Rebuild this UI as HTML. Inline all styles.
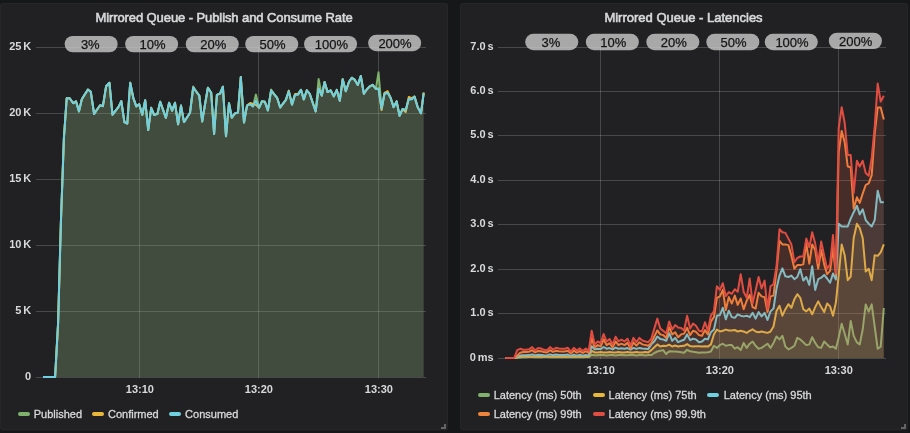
<!DOCTYPE html>
<html lang="en">
<head>
<meta charset="utf-8">
<title>Mirrored Queue</title>
<style>
html,body{margin:0;padding:0;}
body{width:910px;height:433px;overflow:hidden;background:#161719;font-family:"Liberation Sans",sans-serif;color:#d8d9da;position:relative;}
.panel{position:absolute;top:3px;height:427px;background:#212124;border-radius:2px;box-shadow:0 1px 0 #1b1c1e;border:1px solid #262629;box-sizing:border-box;}
#p1{left:0px;width:448px;}
#p2{left:460px;width:448px;}
.gfx{position:absolute;left:0;top:0;will-change:transform;}
.title{position:absolute;top:9.5px;height:16px;line-height:16px;font-size:13px;font-weight:normal;-webkit-text-stroke:0.6px #d8d9da;color:#d8d9da;text-align:center;white-space:nowrap;}
.sw{position:absolute;display:block;width:12px;height:4px;border-radius:2px;}
.lg{position:absolute;height:16px;line-height:16px;font-size:11px;-webkit-text-stroke:0.3px #d8d9da;color:#d8d9da;white-space:nowrap;}
.rh{position:absolute;width:3px;height:3px;border-right:2px solid #646466;border-bottom:2px solid #646466;}
</style>
</head>
<body>
<div class="panel" id="p1"></div>
<div class="panel" id="p2"></div>
<svg class="gfx" width="910" height="433" viewBox="0 0 910 433">
<g stroke="#ffffff" stroke-opacity="0.175" stroke-width="1" shape-rendering="crispEdges">
<line x1="36" x2="426" y1="47.5" y2="47.5"/>
<line x1="36" x2="426" y1="113.5" y2="113.5"/>
<line x1="36" x2="426" y1="179.5" y2="179.5"/>
<line x1="36" x2="426" y1="245.5" y2="245.5"/>
<line x1="36" x2="426" y1="311.5" y2="311.5"/>
<line x1="36" x2="426" y1="377.5" y2="377.5"/>
<line x1="139.5" x2="139.5" y1="47" y2="378"/>
<line x1="258.5" x2="258.5" y1="47" y2="378"/>
<line x1="378.5" x2="378.5" y1="47" y2="378"/>
<line x1="498" x2="886" y1="47.5" y2="47.5"/>
<line x1="498" x2="886" y1="91.5" y2="91.5"/>
<line x1="498" x2="886" y1="135.5" y2="135.5"/>
<line x1="498" x2="886" y1="180.5" y2="180.5"/>
<line x1="498" x2="886" y1="224.5" y2="224.5"/>
<line x1="498" x2="886" y1="269.5" y2="269.5"/>
<line x1="498" x2="886" y1="313.5" y2="313.5"/>
<line x1="498" x2="886" y1="358.5" y2="358.5"/>
<line x1="600.5" x2="600.5" y1="47" y2="359"/>
<line x1="719.5" x2="719.5" y1="47" y2="359"/>
<line x1="838.5" x2="838.5" y1="47" y2="359"/>
</g>
<path d="M43.0 377.0 L55.1 377.0 L58.1 323.0 L60.9 222.0 L63.9 138.0 L66.7 98.2 L69.7 98.2 L73.2 103.2 L76.0 101.3 L79.0 111.4 L81.8 99.2 L84.9 94.3 L87.9 89.5 L90.8 91.8 L94.1 113.9 L97.1 109.5 L100.1 105.2 L102.9 106.1 L106.1 86.3 L109.4 82.7 L112.5 114.7 L115.4 110.9 L118.4 107.1 L121.3 101.1 L124.4 122.1 L127.3 123.5 L130.2 82.7 L133.3 97.8 L136.3 106.4 L139.2 104.2 L142.3 114.7 L145.2 100.3 L148.2 130.0 L151.2 107.8 L154.2 115.0 L157.4 113.9 L160.2 101.8 L163.1 109.8 L165.9 117.8 L169.1 102.8 L172.1 110.7 L175.0 102.8 L178.1 124.3 L181.0 105.6 L184.0 122.1 L187.0 117.5 L190.0 112.8 L193.2 86.6 L196.2 91.5 L199.3 95.6 L202.2 121.4 L205.0 104.5 L207.9 87.7 L211.2 92.8 L214.1 134.0 L216.9 94.9 L220.1 93.5 L222.9 86.7 L226.0 136.2 L229.0 103.2 L231.8 117.8 L234.8 113.5 L238.0 112.5 L240.8 77.0 L244.0 122.5 L247.0 105.6 L250.2 104.2 L253.0 106.4 L255.9 94.6 L259.0 107.8 L261.9 101.3 L264.9 101.8 L267.9 110.4 L271.1 89.6 L274.1 94.2 L277.1 97.8 L280.2 107.5 L283.0 103.7 L285.9 99.9 L288.8 91.3 L292.0 104.6 L295.0 94.9 L298.0 94.6 L301.0 89.9 L303.8 99.4 L306.8 90.3 L309.7 93.8 L312.7 102.6 L315.7 111.4 L318.6 79.0 L321.8 95.6 L324.6 82.0 L327.6 92.1 L330.6 90.3 L333.8 96.4 L336.8 89.9 L339.8 100.7 L342.7 79.2 L345.8 91.3 L349.0 81.8 L351.8 77.7 L354.8 79.9 L357.8 84.9 L360.8 76.0 L363.9 93.8 L366.9 89.2 L369.9 86.3 L372.7 84.9 L375.9 88.9 L378.5 72.3 L381.6 108.5 L384.5 93.8 L387.6 92.8 L390.6 97.8 L393.6 107.1 L396.6 101.4 L399.6 115.7 L402.6 109.0 L405.7 110.0 L408.8 99.0 L411.7 99.2 L414.5 96.6 L417.7 107.1 L421.0 113.3 L423.7 93.2 L423.7 377.0 L43.0 377.0 Z" fill="#7EB26D" fill-opacity="0.1" stroke="none"/>
<path d="M43.0 377.0 L55.1 377.0 L58.1 323.0 L60.9 222.0 L63.9 138.0 L66.7 98.2 L69.7 98.2 L73.2 103.2 L76.0 101.3 L79.0 111.4 L81.8 99.2 L84.9 94.3 L87.9 89.5 L90.8 91.8 L94.1 113.9 L97.1 109.5 L100.1 105.2 L102.9 106.1 L106.1 86.3 L109.4 82.7 L112.5 114.7 L115.4 110.9 L118.4 107.1 L121.3 101.1 L124.4 122.1 L127.3 123.5 L130.2 82.7 L133.3 97.8 L136.3 106.4 L139.2 104.2 L142.3 114.7 L145.2 100.3 L148.2 130.0 L151.2 107.8 L154.2 115.0 L157.4 113.9 L160.2 101.8 L163.1 109.8 L165.9 117.8 L169.1 102.8 L172.1 110.7 L175.0 102.8 L178.1 124.3 L181.0 105.6 L184.0 122.1 L187.0 117.5 L190.0 112.8 L193.2 86.6 L196.2 91.5 L199.3 95.6 L202.2 121.4 L205.0 104.5 L207.9 87.7 L211.2 92.8 L214.1 134.0 L216.9 94.9 L220.1 93.5 L222.9 86.7 L226.0 136.2 L229.0 103.2 L231.8 117.8 L234.8 113.5 L238.0 112.5 L240.8 77.0 L244.0 122.5 L247.0 105.6 L250.2 104.2 L253.0 106.4 L255.9 94.6 L259.0 107.8 L261.9 101.3 L264.9 101.8 L267.9 110.4 L271.1 89.6 L274.1 94.2 L277.1 97.8 L280.2 107.5 L283.0 103.7 L285.9 99.9 L288.8 91.3 L292.0 104.6 L295.0 94.9 L298.0 94.6 L301.0 89.9 L303.8 99.4 L306.8 90.3 L309.7 93.8 L312.7 102.6 L315.7 111.4 L318.6 79.0 L321.8 95.6 L324.6 82.0 L327.6 92.1 L330.6 90.3 L333.8 96.4 L336.8 89.9 L339.8 100.7 L342.7 79.2 L345.8 91.3 L349.0 81.8 L351.8 77.7 L354.8 79.9 L357.8 84.9 L360.8 76.0 L363.9 93.8 L366.9 89.2 L369.9 86.3 L372.7 84.9 L375.9 88.9 L378.5 72.3 L381.6 108.5 L384.5 93.8 L387.6 92.8 L390.6 97.8 L393.6 107.1 L396.6 101.4 L399.6 115.7 L402.6 109.0 L405.7 110.0 L408.8 99.0 L411.7 99.2 L414.5 96.6 L417.7 107.1 L421.0 113.3 L423.7 93.2" fill="none" stroke="#7EB26D" stroke-width="2" stroke-linejoin="round" stroke-linecap="butt"/>
<path d="M43.0 377.0 L55.1 377.0 L58.1 323.0 L60.9 222.0 L63.9 138.0 L66.7 98.2 L69.7 98.2 L73.2 103.2 L76.0 101.3 L79.0 111.4 L81.8 99.2 L84.9 94.3 L87.9 89.5 L90.8 91.8 L94.1 113.9 L97.1 109.5 L100.1 105.2 L102.9 106.1 L106.1 86.3 L109.4 82.7 L112.5 114.7 L115.4 110.9 L118.4 107.1 L121.3 101.1 L124.4 122.1 L127.3 123.5 L130.2 82.7 L133.3 97.8 L136.3 106.4 L139.2 104.2 L142.3 114.7 L145.2 100.3 L148.2 130.0 L151.2 107.8 L154.2 115.0 L157.4 113.9 L160.2 101.8 L163.1 109.8 L165.9 117.8 L169.1 102.8 L172.1 110.7 L175.0 102.8 L178.1 124.3 L181.0 105.6 L184.0 122.1 L187.0 117.5 L190.0 112.8 L193.2 87.5 L196.2 91.5 L199.3 95.6 L202.2 121.4 L205.0 104.5 L207.9 87.7 L211.2 92.8 L214.1 134.0 L216.9 94.9 L220.1 93.5 L222.9 86.7 L226.0 136.2 L229.0 103.2 L231.8 117.8 L234.8 113.5 L238.0 112.5 L240.8 77.0 L244.0 122.5 L247.0 105.6 L250.2 103.0 L253.0 104.0 L255.9 104.8 L259.0 107.8 L261.9 101.3 L264.9 101.8 L267.9 110.4 L271.1 90.6 L274.1 94.2 L277.1 97.8 L280.2 107.5 L283.0 103.7 L285.9 99.9 L288.8 90.6 L292.0 104.6 L295.0 94.0 L298.0 93.8 L301.0 89.9 L303.8 99.4 L306.8 90.3 L309.7 93.8 L312.7 102.6 L315.7 111.4 L318.6 88.5 L321.8 95.6 L324.6 82.0 L327.6 92.1 L330.6 90.3 L333.8 96.4 L336.8 89.9 L339.8 100.7 L342.7 79.2 L345.8 91.3 L349.0 81.8 L351.8 77.7 L354.8 79.9 L357.8 84.9 L360.8 76.0 L363.9 93.8 L366.9 89.2 L369.9 86.3 L372.7 84.9 L375.9 88.9 L378.5 88.5 L381.6 110.0 L384.5 92.8 L387.6 91.2 L390.6 97.8 L393.6 107.1 L396.6 101.4 L399.6 115.7 L402.6 109.0 L405.7 112.0 L408.8 97.0 L411.7 98.2 L414.5 96.6 L417.7 107.1 L421.0 113.3 L423.7 92.4 L423.7 377.0 L43.0 377.0 Z" fill="#EAB839" fill-opacity="0.1" stroke="none"/>
<path d="M43.0 377.0 L55.1 377.0 L58.1 323.0 L60.9 222.0 L63.9 138.0 L66.7 98.2 L69.7 98.2 L73.2 103.2 L76.0 101.3 L79.0 111.4 L81.8 99.2 L84.9 94.3 L87.9 89.5 L90.8 91.8 L94.1 113.9 L97.1 109.5 L100.1 105.2 L102.9 106.1 L106.1 86.3 L109.4 82.7 L112.5 114.7 L115.4 110.9 L118.4 107.1 L121.3 101.1 L124.4 122.1 L127.3 123.5 L130.2 82.7 L133.3 97.8 L136.3 106.4 L139.2 104.2 L142.3 114.7 L145.2 100.3 L148.2 130.0 L151.2 107.8 L154.2 115.0 L157.4 113.9 L160.2 101.8 L163.1 109.8 L165.9 117.8 L169.1 102.8 L172.1 110.7 L175.0 102.8 L178.1 124.3 L181.0 105.6 L184.0 122.1 L187.0 117.5 L190.0 112.8 L193.2 87.5 L196.2 91.5 L199.3 95.6 L202.2 121.4 L205.0 104.5 L207.9 87.7 L211.2 92.8 L214.1 134.0 L216.9 94.9 L220.1 93.5 L222.9 86.7 L226.0 136.2 L229.0 103.2 L231.8 117.8 L234.8 113.5 L238.0 112.5 L240.8 77.0 L244.0 122.5 L247.0 105.6 L250.2 103.0 L253.0 104.0 L255.9 104.8 L259.0 107.8 L261.9 101.3 L264.9 101.8 L267.9 110.4 L271.1 90.6 L274.1 94.2 L277.1 97.8 L280.2 107.5 L283.0 103.7 L285.9 99.9 L288.8 90.6 L292.0 104.6 L295.0 94.0 L298.0 93.8 L301.0 89.9 L303.8 99.4 L306.8 90.3 L309.7 93.8 L312.7 102.6 L315.7 111.4 L318.6 88.5 L321.8 95.6 L324.6 82.0 L327.6 92.1 L330.6 90.3 L333.8 96.4 L336.8 89.9 L339.8 100.7 L342.7 79.2 L345.8 91.3 L349.0 81.8 L351.8 77.7 L354.8 79.9 L357.8 84.9 L360.8 76.0 L363.9 93.8 L366.9 89.2 L369.9 86.3 L372.7 84.9 L375.9 88.9 L378.5 88.5 L381.6 110.0 L384.5 92.8 L387.6 91.2 L390.6 97.8 L393.6 107.1 L396.6 101.4 L399.6 115.7 L402.6 109.0 L405.7 112.0 L408.8 97.0 L411.7 98.2 L414.5 96.6 L417.7 107.1 L421.0 113.3 L423.7 92.4" fill="none" stroke="#EAB839" stroke-width="2" stroke-linejoin="round" stroke-linecap="butt"/>
<path d="M43.0 377.0 L55.1 377.0 L58.1 323.0 L60.9 222.0 L63.9 138.0 L66.7 98.2 L69.7 98.2 L73.2 103.2 L76.0 101.3 L79.0 111.4 L81.8 99.2 L84.9 94.3 L87.9 89.5 L90.8 91.8 L94.1 113.9 L97.1 109.5 L100.1 105.2 L102.9 106.1 L106.1 86.3 L109.4 82.7 L112.5 114.7 L115.4 110.9 L118.4 107.1 L121.3 101.1 L124.4 122.1 L127.3 123.5 L130.2 82.7 L133.3 97.8 L136.3 106.4 L139.2 104.2 L142.3 114.7 L145.2 100.3 L148.2 130.0 L151.2 107.8 L154.2 115.0 L157.4 113.9 L160.2 101.8 L163.1 109.8 L165.9 117.8 L169.1 102.8 L172.1 110.7 L175.0 102.8 L178.1 124.3 L181.0 105.6 L184.0 122.1 L187.0 117.5 L190.0 112.8 L193.2 87.5 L196.2 91.5 L199.3 95.6 L202.2 121.4 L205.0 104.5 L207.9 87.7 L211.2 92.8 L214.1 134.0 L216.9 94.9 L220.1 93.5 L222.9 86.7 L226.0 136.2 L229.0 103.2 L231.8 117.8 L234.8 113.5 L238.0 112.5 L240.8 77.0 L244.0 122.5 L247.0 105.6 L250.2 104.2 L253.0 106.4 L255.9 100.6 L259.0 107.8 L261.9 101.3 L264.9 101.8 L267.9 110.4 L271.1 90.6 L274.1 94.2 L277.1 97.8 L280.2 107.5 L283.0 103.7 L285.9 99.9 L288.8 91.3 L292.0 104.6 L295.0 94.9 L298.0 94.6 L301.0 89.9 L303.8 99.4 L306.8 90.3 L309.7 93.8 L312.7 102.6 L315.7 111.4 L318.6 88.5 L321.8 95.6 L324.6 82.0 L327.6 92.1 L330.6 90.3 L333.8 96.4 L336.8 89.9 L339.8 100.7 L342.7 79.2 L345.8 91.3 L349.0 81.8 L351.8 77.7 L354.8 79.9 L357.8 84.9 L360.8 76.0 L363.9 93.8 L366.9 89.2 L369.9 86.3 L372.7 84.9 L375.9 88.9 L378.5 88.5 L381.6 108.5 L384.5 93.8 L387.6 92.8 L390.6 97.8 L393.6 107.1 L396.6 101.4 L399.6 115.7 L402.6 109.0 L405.7 110.0 L408.8 99.0 L411.7 99.2 L414.5 96.6 L417.7 107.1 L421.0 113.3 L423.7 93.2 L423.7 377.0 L43.0 377.0 Z" fill="#6ED0E0" fill-opacity="0.1" stroke="none"/>
<path d="M43.0 377.0 L55.1 377.0 L58.1 323.0 L60.9 222.0 L63.9 138.0 L66.7 98.2 L69.7 98.2 L73.2 103.2 L76.0 101.3 L79.0 111.4 L81.8 99.2 L84.9 94.3 L87.9 89.5 L90.8 91.8 L94.1 113.9 L97.1 109.5 L100.1 105.2 L102.9 106.1 L106.1 86.3 L109.4 82.7 L112.5 114.7 L115.4 110.9 L118.4 107.1 L121.3 101.1 L124.4 122.1 L127.3 123.5 L130.2 82.7 L133.3 97.8 L136.3 106.4 L139.2 104.2 L142.3 114.7 L145.2 100.3 L148.2 130.0 L151.2 107.8 L154.2 115.0 L157.4 113.9 L160.2 101.8 L163.1 109.8 L165.9 117.8 L169.1 102.8 L172.1 110.7 L175.0 102.8 L178.1 124.3 L181.0 105.6 L184.0 122.1 L187.0 117.5 L190.0 112.8 L193.2 87.5 L196.2 91.5 L199.3 95.6 L202.2 121.4 L205.0 104.5 L207.9 87.7 L211.2 92.8 L214.1 134.0 L216.9 94.9 L220.1 93.5 L222.9 86.7 L226.0 136.2 L229.0 103.2 L231.8 117.8 L234.8 113.5 L238.0 112.5 L240.8 77.0 L244.0 122.5 L247.0 105.6 L250.2 104.2 L253.0 106.4 L255.9 100.6 L259.0 107.8 L261.9 101.3 L264.9 101.8 L267.9 110.4 L271.1 90.6 L274.1 94.2 L277.1 97.8 L280.2 107.5 L283.0 103.7 L285.9 99.9 L288.8 91.3 L292.0 104.6 L295.0 94.9 L298.0 94.6 L301.0 89.9 L303.8 99.4 L306.8 90.3 L309.7 93.8 L312.7 102.6 L315.7 111.4 L318.6 88.5 L321.8 95.6 L324.6 82.0 L327.6 92.1 L330.6 90.3 L333.8 96.4 L336.8 89.9 L339.8 100.7 L342.7 79.2 L345.8 91.3 L349.0 81.8 L351.8 77.7 L354.8 79.9 L357.8 84.9 L360.8 76.0 L363.9 93.8 L366.9 89.2 L369.9 86.3 L372.7 84.9 L375.9 88.9 L378.5 88.5 L381.6 108.5 L384.5 93.8 L387.6 92.8 L390.6 97.8 L393.6 107.1 L396.6 101.4 L399.6 115.7 L402.6 109.0 L405.7 110.0 L408.8 99.0 L411.7 99.2 L414.5 96.6 L417.7 107.1 L421.0 113.3 L423.7 93.2" fill="none" stroke="#6ED0E0" stroke-width="2" stroke-linejoin="round" stroke-linecap="butt"/>
<path d="M505.3 358.0 L508.3 358.0 L511.3 358.0 L514.2 358.0 L517.2 357.6 L520.2 357.4 L523.2 357.3 L526.2 357.2 L529.1 357.1 L532.1 357.1 L535.1 357.2 L538.1 357.3 L541.1 357.2 L544.0 357.1 L547.0 357.1 L550.0 357.3 L553.0 357.3 L556.0 357.2 L558.9 357.1 L561.9 357.2 L564.9 357.3 L567.9 357.3 L570.9 357.2 L573.8 357.1 L576.8 357.2 L579.8 357.3 L582.8 357.3 L585.8 357.1 L588.7 357.1 L591.7 354.8 L594.7 355.2 L597.7 355.3 L600.7 354.8 L603.6 355.1 L606.6 355.4 L609.6 354.9 L612.6 354.9 L615.6 355.4 L618.5 355.1 L621.5 354.8 L624.5 355.3 L627.5 355.3 L630.5 354.8 L633.4 355.1 L636.4 355.4 L639.4 354.9 L642.4 354.9 L645.4 355.4 L648.3 355.1 L651.3 355.1 L654.3 353.0 L657.3 351.5 L660.3 350.8 L663.2 350.1 L666.2 354.1 L669.2 351.3 L672.2 351.5 L675.2 351.6 L678.1 351.8 L681.1 352.2 L684.1 352.7 L687.1 349.8 L690.1 351.3 L693.0 351.8 L696.0 352.2 L699.0 352.7 L702.0 352.5 L705.0 352.4 L707.9 352.3 L710.9 351.5 L713.9 345.8 L716.9 347.9 L719.9 345.1 L722.8 343.7 L725.8 345.8 L728.8 345.1 L731.8 345.1 L734.8 348.7 L737.7 347.2 L740.7 350.1 L743.7 342.9 L746.7 347.9 L749.7 343.7 L752.6 341.5 L755.6 345.8 L758.6 348.7 L761.6 347.9 L764.6 345.8 L767.5 343.7 L770.5 347.9 L773.5 342.9 L776.5 336.5 L779.5 339.4 L782.4 335.8 L785.4 346.5 L788.4 349.4 L791.4 347.9 L794.4 345.8 L797.3 337.9 L800.3 339.4 L803.3 342.2 L806.3 345.1 L809.3 344.4 L812.2 337.2 L815.2 342.9 L818.2 347.2 L821.2 347.9 L824.2 341.5 L827.1 344.4 L830.1 347.2 L833.0 346.5 L835.9 348.8 L838.7 337.4 L841.7 323.8 L844.7 333.8 L847.7 344.5 L850.7 320.9 L853.7 335.9 L856.9 342.4 L859.7 344.5 L862.7 329.5 L865.7 304.4 L868.7 311.6 L871.7 304.4 L874.7 326.6 L877.7 348.8 L880.7 346.7 L883.8 308.0 L883.8 358.0 L505.3 358.0 Z" fill="#7EB26D" fill-opacity="0.1" stroke="none"/>
<path d="M505.3 358.0 L508.3 358.0 L511.3 358.0 L514.2 358.0 L517.2 357.6 L520.2 357.4 L523.2 357.3 L526.2 357.2 L529.1 357.1 L532.1 357.1 L535.1 357.2 L538.1 357.3 L541.1 357.2 L544.0 357.1 L547.0 357.1 L550.0 357.3 L553.0 357.3 L556.0 357.2 L558.9 357.1 L561.9 357.2 L564.9 357.3 L567.9 357.3 L570.9 357.2 L573.8 357.1 L576.8 357.2 L579.8 357.3 L582.8 357.3 L585.8 357.1 L588.7 357.1 L591.7 354.8 L594.7 355.2 L597.7 355.3 L600.7 354.8 L603.6 355.1 L606.6 355.4 L609.6 354.9 L612.6 354.9 L615.6 355.4 L618.5 355.1 L621.5 354.8 L624.5 355.3 L627.5 355.3 L630.5 354.8 L633.4 355.1 L636.4 355.4 L639.4 354.9 L642.4 354.9 L645.4 355.4 L648.3 355.1 L651.3 355.1 L654.3 353.0 L657.3 351.5 L660.3 350.8 L663.2 350.1 L666.2 354.1 L669.2 351.3 L672.2 351.5 L675.2 351.6 L678.1 351.8 L681.1 352.2 L684.1 352.7 L687.1 349.8 L690.1 351.3 L693.0 351.8 L696.0 352.2 L699.0 352.7 L702.0 352.5 L705.0 352.4 L707.9 352.3 L710.9 351.5 L713.9 345.8 L716.9 347.9 L719.9 345.1 L722.8 343.7 L725.8 345.8 L728.8 345.1 L731.8 345.1 L734.8 348.7 L737.7 347.2 L740.7 350.1 L743.7 342.9 L746.7 347.9 L749.7 343.7 L752.6 341.5 L755.6 345.8 L758.6 348.7 L761.6 347.9 L764.6 345.8 L767.5 343.7 L770.5 347.9 L773.5 342.9 L776.5 336.5 L779.5 339.4 L782.4 335.8 L785.4 346.5 L788.4 349.4 L791.4 347.9 L794.4 345.8 L797.3 337.9 L800.3 339.4 L803.3 342.2 L806.3 345.1 L809.3 344.4 L812.2 337.2 L815.2 342.9 L818.2 347.2 L821.2 347.9 L824.2 341.5 L827.1 344.4 L830.1 347.2 L833.0 346.5 L835.9 348.8 L838.7 337.4 L841.7 323.8 L844.7 333.8 L847.7 344.5 L850.7 320.9 L853.7 335.9 L856.9 342.4 L859.7 344.5 L862.7 329.5 L865.7 304.4 L868.7 311.6 L871.7 304.4 L874.7 326.6 L877.7 348.8 L880.7 346.7 L883.8 308.0" fill="none" stroke="#7EB26D" stroke-width="2" stroke-linejoin="round" stroke-linecap="butt"/>
<path d="M505.3 358.0 L508.3 358.0 L511.3 358.0 L514.2 358.0 L517.2 357.4 L520.2 356.9 L523.2 356.4 L526.2 356.4 L529.1 356.6 L532.1 356.6 L535.1 356.4 L538.1 356.5 L541.1 356.6 L544.0 356.5 L547.0 356.4 L550.0 356.6 L553.0 356.6 L556.0 356.4 L558.9 356.4 L561.9 356.6 L564.9 356.6 L567.9 356.4 L570.9 356.5 L573.8 356.6 L576.8 356.5 L579.8 356.4 L582.8 356.5 L585.8 356.6 L588.7 356.4 L591.7 350.8 L594.7 352.4 L597.7 352.6 L600.7 352.0 L603.6 352.4 L606.6 352.6 L609.6 352.0 L612.6 352.4 L615.6 352.6 L618.5 352.0 L621.5 352.4 L624.5 352.6 L627.5 352.0 L630.5 352.4 L633.4 352.6 L636.4 352.0 L639.4 352.4 L642.4 352.5 L645.4 352.0 L648.3 352.4 L651.3 350.1 L654.3 347.2 L657.3 344.4 L660.3 346.5 L663.2 345.8 L666.2 345.9 L669.2 344.7 L672.2 346.5 L675.2 345.5 L678.1 346.5 L681.1 346.0 L684.1 345.8 L687.1 344.1 L690.1 346.1 L693.0 346.5 L696.0 346.2 L699.0 346.3 L702.0 346.5 L705.0 346.3 L707.9 346.6 L710.9 344.4 L713.9 334.5 L716.9 329.6 L719.9 331.5 L722.8 330.8 L725.8 329.6 L728.8 330.5 L731.8 330.5 L734.8 330.0 L737.7 331.5 L740.7 330.8 L743.7 331.5 L746.7 332.9 L749.7 330.8 L752.6 329.3 L755.6 331.5 L758.6 332.2 L761.6 331.5 L764.6 332.2 L767.5 332.9 L770.5 331.5 L773.5 326.5 L776.5 311.0 L779.5 305.7 L782.4 315.7 L785.4 309.2 L788.4 304.2 L791.4 307.8 L794.4 299.2 L797.3 294.2 L800.3 297.8 L803.3 309.2 L806.3 311.4 L809.3 308.5 L812.2 314.3 L815.2 307.1 L818.2 301.4 L821.2 307.1 L824.2 312.1 L827.1 303.5 L830.1 306.4 L833.0 315.7 L835.9 302.3 L838.7 275.0 L841.7 244.4 L844.7 255.2 L847.7 280.2 L850.7 276.7 L853.7 238.0 L856.9 223.7 L859.7 228.0 L862.7 238.0 L865.7 271.6 L868.7 268.8 L871.7 280.2 L874.7 255.2 L877.7 255.9 L880.7 252.3 L883.8 244.4 L883.8 358.0 L505.3 358.0 Z" fill="#EAB839" fill-opacity="0.1" stroke="none"/>
<path d="M505.3 358.0 L508.3 358.0 L511.3 358.0 L514.2 358.0 L517.2 357.4 L520.2 356.9 L523.2 356.4 L526.2 356.4 L529.1 356.6 L532.1 356.6 L535.1 356.4 L538.1 356.5 L541.1 356.6 L544.0 356.5 L547.0 356.4 L550.0 356.6 L553.0 356.6 L556.0 356.4 L558.9 356.4 L561.9 356.6 L564.9 356.6 L567.9 356.4 L570.9 356.5 L573.8 356.6 L576.8 356.5 L579.8 356.4 L582.8 356.5 L585.8 356.6 L588.7 356.4 L591.7 350.8 L594.7 352.4 L597.7 352.6 L600.7 352.0 L603.6 352.4 L606.6 352.6 L609.6 352.0 L612.6 352.4 L615.6 352.6 L618.5 352.0 L621.5 352.4 L624.5 352.6 L627.5 352.0 L630.5 352.4 L633.4 352.6 L636.4 352.0 L639.4 352.4 L642.4 352.5 L645.4 352.0 L648.3 352.4 L651.3 350.1 L654.3 347.2 L657.3 344.4 L660.3 346.5 L663.2 345.8 L666.2 345.9 L669.2 344.7 L672.2 346.5 L675.2 345.5 L678.1 346.5 L681.1 346.0 L684.1 345.8 L687.1 344.1 L690.1 346.1 L693.0 346.5 L696.0 346.2 L699.0 346.3 L702.0 346.5 L705.0 346.3 L707.9 346.6 L710.9 344.4 L713.9 334.5 L716.9 329.6 L719.9 331.5 L722.8 330.8 L725.8 329.6 L728.8 330.5 L731.8 330.5 L734.8 330.0 L737.7 331.5 L740.7 330.8 L743.7 331.5 L746.7 332.9 L749.7 330.8 L752.6 329.3 L755.6 331.5 L758.6 332.2 L761.6 331.5 L764.6 332.2 L767.5 332.9 L770.5 331.5 L773.5 326.5 L776.5 311.0 L779.5 305.7 L782.4 315.7 L785.4 309.2 L788.4 304.2 L791.4 307.8 L794.4 299.2 L797.3 294.2 L800.3 297.8 L803.3 309.2 L806.3 311.4 L809.3 308.5 L812.2 314.3 L815.2 307.1 L818.2 301.4 L821.2 307.1 L824.2 312.1 L827.1 303.5 L830.1 306.4 L833.0 315.7 L835.9 302.3 L838.7 275.0 L841.7 244.4 L844.7 255.2 L847.7 280.2 L850.7 276.7 L853.7 238.0 L856.9 223.7 L859.7 228.0 L862.7 238.0 L865.7 271.6 L868.7 268.8 L871.7 280.2 L874.7 255.2 L877.7 255.9 L880.7 252.3 L883.8 244.4" fill="none" stroke="#EAB839" stroke-width="2" stroke-linejoin="round" stroke-linecap="butt"/>
<path d="M505.3 358.0 L508.3 358.0 L511.3 358.0 L514.2 358.0 L517.2 356.8 L520.2 355.6 L523.2 355.3 L526.2 355.3 L529.1 355.1 L532.1 354.4 L535.1 355.4 L538.1 354.7 L541.1 354.9 L544.0 355.3 L547.0 355.4 L550.0 354.4 L553.0 355.2 L556.0 354.6 L558.9 354.9 L561.9 355.0 L564.9 355.0 L567.9 354.6 L570.9 355.9 L573.8 354.6 L576.8 355.6 L579.8 354.8 L582.8 355.7 L585.8 354.9 L588.7 355.6 L591.7 346.2 L594.7 349.4 L597.7 348.7 L600.7 349.1 L603.6 347.0 L606.6 348.7 L609.6 348.1 L612.6 349.4 L615.6 347.6 L618.5 348.7 L621.5 348.3 L624.5 348.7 L627.5 348.1 L630.5 349.7 L633.4 347.9 L636.4 348.9 L639.4 347.9 L642.4 348.5 L645.4 348.7 L648.3 348.9 L651.3 344.4 L654.3 341.5 L657.3 336.5 L660.3 338.9 L663.2 339.4 L666.2 340.8 L669.2 333.2 L672.2 340.8 L675.2 337.9 L678.1 342.2 L681.1 340.8 L684.1 339.8 L687.1 334.4 L690.1 340.1 L693.0 338.7 L696.0 339.4 L699.0 342.2 L702.0 341.5 L705.0 338.7 L707.9 339.4 L710.9 332.2 L713.9 329.5 L716.9 315.7 L719.9 315.0 L722.8 307.8 L725.8 319.3 L728.8 310.7 L731.8 317.1 L734.8 317.8 L737.7 314.3 L740.7 315.7 L743.7 316.4 L746.7 315.7 L749.7 317.1 L752.6 312.8 L755.6 318.6 L758.6 312.1 L761.6 316.4 L764.6 312.8 L767.5 320.0 L770.5 311.4 L773.5 308.5 L776.5 288.5 L779.5 275.6 L782.4 268.4 L785.4 276.3 L788.4 277.0 L791.4 275.6 L794.4 279.2 L797.3 277.0 L800.3 269.2 L803.3 280.6 L806.3 277.0 L809.3 284.9 L812.2 266.3 L815.2 289.9 L818.2 279.2 L821.2 277.7 L824.2 274.9 L827.1 278.5 L830.1 282.8 L833.0 273.5 L835.9 279.5 L838.7 223.7 L841.7 226.5 L844.7 226.5 L847.7 226.5 L850.7 218.7 L853.7 212.2 L856.9 205.8 L859.7 214.4 L862.7 209.3 L865.7 220.1 L868.7 223.7 L871.7 226.5 L874.7 220.1 L877.7 190.7 L880.7 202.2 L883.8 202.2 L883.8 358.0 L505.3 358.0 Z" fill="#6ED0E0" fill-opacity="0.1" stroke="none"/>
<path d="M505.3 358.0 L508.3 358.0 L511.3 358.0 L514.2 358.0 L517.2 356.8 L520.2 355.6 L523.2 355.3 L526.2 355.3 L529.1 355.1 L532.1 354.4 L535.1 355.4 L538.1 354.7 L541.1 354.9 L544.0 355.3 L547.0 355.4 L550.0 354.4 L553.0 355.2 L556.0 354.6 L558.9 354.9 L561.9 355.0 L564.9 355.0 L567.9 354.6 L570.9 355.9 L573.8 354.6 L576.8 355.6 L579.8 354.8 L582.8 355.7 L585.8 354.9 L588.7 355.6 L591.7 346.2 L594.7 349.4 L597.7 348.7 L600.7 349.1 L603.6 347.0 L606.6 348.7 L609.6 348.1 L612.6 349.4 L615.6 347.6 L618.5 348.7 L621.5 348.3 L624.5 348.7 L627.5 348.1 L630.5 349.7 L633.4 347.9 L636.4 348.9 L639.4 347.9 L642.4 348.5 L645.4 348.7 L648.3 348.9 L651.3 344.4 L654.3 341.5 L657.3 336.5 L660.3 338.9 L663.2 339.4 L666.2 340.8 L669.2 333.2 L672.2 340.8 L675.2 337.9 L678.1 342.2 L681.1 340.8 L684.1 339.8 L687.1 334.4 L690.1 340.1 L693.0 338.7 L696.0 339.4 L699.0 342.2 L702.0 341.5 L705.0 338.7 L707.9 339.4 L710.9 332.2 L713.9 329.5 L716.9 315.7 L719.9 315.0 L722.8 307.8 L725.8 319.3 L728.8 310.7 L731.8 317.1 L734.8 317.8 L737.7 314.3 L740.7 315.7 L743.7 316.4 L746.7 315.7 L749.7 317.1 L752.6 312.8 L755.6 318.6 L758.6 312.1 L761.6 316.4 L764.6 312.8 L767.5 320.0 L770.5 311.4 L773.5 308.5 L776.5 288.5 L779.5 275.6 L782.4 268.4 L785.4 276.3 L788.4 277.0 L791.4 275.6 L794.4 279.2 L797.3 277.0 L800.3 269.2 L803.3 280.6 L806.3 277.0 L809.3 284.9 L812.2 266.3 L815.2 289.9 L818.2 279.2 L821.2 277.7 L824.2 274.9 L827.1 278.5 L830.1 282.8 L833.0 273.5 L835.9 279.5 L838.7 223.7 L841.7 226.5 L844.7 226.5 L847.7 226.5 L850.7 218.7 L853.7 212.2 L856.9 205.8 L859.7 214.4 L862.7 209.3 L865.7 220.1 L868.7 223.7 L871.7 226.5 L874.7 220.1 L877.7 190.7 L880.7 202.2 L883.8 202.2" fill="none" stroke="#6ED0E0" stroke-width="2" stroke-linejoin="round" stroke-linecap="butt"/>
<path d="M505.3 358.0 L508.3 358.0 L511.3 358.0 L514.2 358.0 L517.2 355.5 L520.2 352.7 L523.2 352.1 L526.2 352.1 L529.1 351.7 L532.1 350.2 L535.1 352.4 L538.1 350.9 L541.1 351.2 L544.0 352.1 L547.0 352.4 L550.0 350.2 L553.0 351.9 L556.0 350.7 L558.9 351.2 L561.9 351.4 L564.9 351.4 L567.9 350.7 L570.9 353.4 L573.8 350.7 L576.8 352.7 L579.8 351.1 L582.8 352.9 L585.8 351.2 L588.7 352.8 L591.7 338.3 L594.7 347.4 L597.7 345.1 L600.7 346.3 L603.6 339.3 L606.6 345.1 L609.6 343.2 L612.6 347.4 L615.6 341.5 L618.5 345.0 L621.5 343.7 L624.5 345.1 L627.5 342.9 L630.5 348.5 L633.4 342.3 L636.4 345.7 L639.4 342.3 L642.4 344.4 L645.4 345.1 L648.3 345.7 L651.3 342.9 L654.3 336.5 L657.3 330.4 L660.3 334.4 L663.2 335.1 L666.2 337.9 L669.2 327.2 L672.2 334.4 L675.2 332.2 L678.1 337.2 L681.1 334.4 L684.1 333.6 L687.1 327.9 L690.1 335.1 L693.0 330.8 L696.0 331.8 L699.0 335.1 L702.0 335.8 L705.0 330.1 L707.9 334.4 L710.9 321.5 L713.9 317.1 L716.9 297.8 L719.9 296.4 L722.8 289.9 L725.8 310.0 L728.8 297.1 L731.8 303.5 L734.8 295.6 L737.7 304.9 L740.7 298.5 L743.7 309.2 L746.7 300.7 L749.7 294.9 L752.6 307.1 L755.6 308.5 L758.6 292.8 L761.6 296.4 L764.6 297.1 L767.5 312.1 L770.5 296.4 L773.5 295.6 L776.5 270.6 L779.5 240.8 L782.4 244.4 L785.4 244.4 L788.4 245.1 L791.4 255.8 L794.4 268.7 L797.3 265.1 L800.3 265.1 L803.3 264.4 L806.3 243.6 L809.3 263.7 L812.2 244.4 L815.2 250.1 L818.2 268.7 L821.2 250.1 L824.2 264.4 L827.1 274.2 L830.1 270.9 L833.0 248.0 L835.9 275.0 L838.7 152.0 L841.7 131.0 L844.7 142.2 L847.7 166.5 L850.7 167.2 L853.7 208.6 L856.9 197.2 L859.7 202.9 L862.7 193.6 L865.7 185.0 L868.7 183.3 L871.7 175.1 L874.7 133.6 L877.7 107.5 L880.7 107.5 L883.8 119.4 L883.8 358.0 L505.3 358.0 Z" fill="#EF843C" fill-opacity="0.1" stroke="none"/>
<path d="M505.3 358.0 L508.3 358.0 L511.3 358.0 L514.2 358.0 L517.2 355.5 L520.2 352.7 L523.2 352.1 L526.2 352.1 L529.1 351.7 L532.1 350.2 L535.1 352.4 L538.1 350.9 L541.1 351.2 L544.0 352.1 L547.0 352.4 L550.0 350.2 L553.0 351.9 L556.0 350.7 L558.9 351.2 L561.9 351.4 L564.9 351.4 L567.9 350.7 L570.9 353.4 L573.8 350.7 L576.8 352.7 L579.8 351.1 L582.8 352.9 L585.8 351.2 L588.7 352.8 L591.7 338.3 L594.7 347.4 L597.7 345.1 L600.7 346.3 L603.6 339.3 L606.6 345.1 L609.6 343.2 L612.6 347.4 L615.6 341.5 L618.5 345.0 L621.5 343.7 L624.5 345.1 L627.5 342.9 L630.5 348.5 L633.4 342.3 L636.4 345.7 L639.4 342.3 L642.4 344.4 L645.4 345.1 L648.3 345.7 L651.3 342.9 L654.3 336.5 L657.3 330.4 L660.3 334.4 L663.2 335.1 L666.2 337.9 L669.2 327.2 L672.2 334.4 L675.2 332.2 L678.1 337.2 L681.1 334.4 L684.1 333.6 L687.1 327.9 L690.1 335.1 L693.0 330.8 L696.0 331.8 L699.0 335.1 L702.0 335.8 L705.0 330.1 L707.9 334.4 L710.9 321.5 L713.9 317.1 L716.9 297.8 L719.9 296.4 L722.8 289.9 L725.8 310.0 L728.8 297.1 L731.8 303.5 L734.8 295.6 L737.7 304.9 L740.7 298.5 L743.7 309.2 L746.7 300.7 L749.7 294.9 L752.6 307.1 L755.6 308.5 L758.6 292.8 L761.6 296.4 L764.6 297.1 L767.5 312.1 L770.5 296.4 L773.5 295.6 L776.5 270.6 L779.5 240.8 L782.4 244.4 L785.4 244.4 L788.4 245.1 L791.4 255.8 L794.4 268.7 L797.3 265.1 L800.3 265.1 L803.3 264.4 L806.3 243.6 L809.3 263.7 L812.2 244.4 L815.2 250.1 L818.2 268.7 L821.2 250.1 L824.2 264.4 L827.1 274.2 L830.1 270.9 L833.0 248.0 L835.9 275.0 L838.7 152.0 L841.7 131.0 L844.7 142.2 L847.7 166.5 L850.7 167.2 L853.7 208.6 L856.9 197.2 L859.7 202.9 L862.7 193.6 L865.7 185.0 L868.7 183.3 L871.7 175.1 L874.7 133.6 L877.7 107.5 L880.7 107.5 L883.8 119.4" fill="none" stroke="#EF843C" stroke-width="2" stroke-linejoin="round" stroke-linecap="butt"/>
<path d="M505.3 358.0 L508.3 358.0 L511.3 358.0 L514.2 358.0 L517.2 350.2 L520.2 348.8 L523.2 349.8 L526.2 349.8 L529.1 349.2 L532.1 347.1 L535.1 350.2 L538.1 348.1 L541.1 348.5 L544.0 349.8 L547.0 350.2 L550.0 347.1 L553.0 349.5 L556.0 347.8 L558.9 348.5 L561.9 348.8 L564.9 348.8 L567.9 347.8 L570.9 351.6 L573.8 347.8 L576.8 350.6 L579.8 348.4 L582.8 350.9 L585.8 348.5 L588.7 350.8 L591.7 330.7 L594.7 344.4 L597.7 341.5 L600.7 343.0 L603.6 334.0 L606.6 341.5 L609.6 339.0 L612.6 344.4 L615.6 336.8 L618.5 341.3 L621.5 339.7 L624.5 341.5 L627.5 338.7 L630.5 345.8 L633.4 337.9 L636.4 342.2 L639.4 337.9 L642.4 340.5 L645.4 341.5 L648.3 342.2 L651.3 338.7 L654.3 328.6 L657.3 318.6 L660.3 328.6 L663.2 330.8 L666.2 333.6 L669.2 321.5 L672.2 329.3 L675.2 325.1 L678.1 327.5 L681.1 327.9 L684.1 330.5 L687.1 315.7 L690.1 328.6 L693.0 323.6 L696.0 325.8 L699.0 330.8 L702.0 331.5 L705.0 322.2 L707.9 330.8 L710.9 315.3 L713.9 311.4 L716.9 286.3 L719.9 289.9 L722.8 283.2 L725.8 296.1 L728.8 292.1 L731.8 293.8 L734.8 289.2 L737.7 291.8 L740.7 274.2 L743.7 292.0 L746.7 297.8 L749.7 278.5 L752.6 303.5 L755.6 290.6 L758.6 277.0 L761.6 288.5 L764.6 280.6 L767.5 309.2 L770.5 286.3 L773.5 284.2 L776.5 266.5 L779.5 229.3 L782.4 232.2 L785.4 232.9 L788.4 238.6 L791.4 244.4 L794.4 262.3 L797.3 258.0 L800.3 256.5 L803.3 256.5 L806.3 238.6 L809.3 247.2 L812.2 232.2 L815.2 243.6 L818.2 263.0 L821.2 241.5 L824.2 255.8 L827.1 268.7 L830.1 264.4 L833.0 235.1 L835.9 273.0 L838.7 128.0 L841.7 107.2 L844.7 123.0 L847.7 155.1 L850.7 155.1 L853.7 193.0 L856.9 160.8 L859.7 166.5 L862.7 160.8 L865.7 173.0 L868.7 175.8 L871.7 157.9 L874.7 126.4 L877.7 83.6 L880.7 101.5 L883.8 95.8 L883.8 358.0 L505.3 358.0 Z" fill="#E24D42" fill-opacity="0.1" stroke="none"/>
<path d="M505.3 358.0 L508.3 358.0 L511.3 358.0 L514.2 358.0 L517.2 350.2 L520.2 348.8 L523.2 349.8 L526.2 349.8 L529.1 349.2 L532.1 347.1 L535.1 350.2 L538.1 348.1 L541.1 348.5 L544.0 349.8 L547.0 350.2 L550.0 347.1 L553.0 349.5 L556.0 347.8 L558.9 348.5 L561.9 348.8 L564.9 348.8 L567.9 347.8 L570.9 351.6 L573.8 347.8 L576.8 350.6 L579.8 348.4 L582.8 350.9 L585.8 348.5 L588.7 350.8 L591.7 330.7 L594.7 344.4 L597.7 341.5 L600.7 343.0 L603.6 334.0 L606.6 341.5 L609.6 339.0 L612.6 344.4 L615.6 336.8 L618.5 341.3 L621.5 339.7 L624.5 341.5 L627.5 338.7 L630.5 345.8 L633.4 337.9 L636.4 342.2 L639.4 337.9 L642.4 340.5 L645.4 341.5 L648.3 342.2 L651.3 338.7 L654.3 328.6 L657.3 318.6 L660.3 328.6 L663.2 330.8 L666.2 333.6 L669.2 321.5 L672.2 329.3 L675.2 325.1 L678.1 327.5 L681.1 327.9 L684.1 330.5 L687.1 315.7 L690.1 328.6 L693.0 323.6 L696.0 325.8 L699.0 330.8 L702.0 331.5 L705.0 322.2 L707.9 330.8 L710.9 315.3 L713.9 311.4 L716.9 286.3 L719.9 289.9 L722.8 283.2 L725.8 296.1 L728.8 292.1 L731.8 293.8 L734.8 289.2 L737.7 291.8 L740.7 274.2 L743.7 292.0 L746.7 297.8 L749.7 278.5 L752.6 303.5 L755.6 290.6 L758.6 277.0 L761.6 288.5 L764.6 280.6 L767.5 309.2 L770.5 286.3 L773.5 284.2 L776.5 266.5 L779.5 229.3 L782.4 232.2 L785.4 232.9 L788.4 238.6 L791.4 244.4 L794.4 262.3 L797.3 258.0 L800.3 256.5 L803.3 256.5 L806.3 238.6 L809.3 247.2 L812.2 232.2 L815.2 243.6 L818.2 263.0 L821.2 241.5 L824.2 255.8 L827.1 268.7 L830.1 264.4 L833.0 235.1 L835.9 273.0 L838.7 128.0 L841.7 107.2 L844.7 123.0 L847.7 155.1 L850.7 155.1 L853.7 193.0 L856.9 160.8 L859.7 166.5 L862.7 160.8 L865.7 173.0 L868.7 175.8 L871.7 157.9 L874.7 126.4 L877.7 83.6 L880.7 101.5 L883.8 95.8" fill="none" stroke="#E24D42" stroke-width="2" stroke-linejoin="round" stroke-linecap="butt"/>
<g font-family="Liberation Sans, sans-serif"><rect x="64.6" y="35.9" width="53.1" height="16.4" rx="8.2" ry="8.2" fill="#cacaca" fill-opacity="0.8"/>
<text x="90.3" y="48.8" text-anchor="middle" font-size="13" fill="#151517" stroke="#151517" stroke-width="0.25">3%</text>
<rect x="125.1" y="35.9" width="53.1" height="16.4" rx="8.2" ry="8.2" fill="#cacaca" fill-opacity="0.8"/>
<text x="152.6" y="48.8" text-anchor="middle" font-size="13" fill="#151517" stroke="#151517" stroke-width="0.25">10%</text>
<rect x="185.7" y="35.9" width="53.1" height="16.4" rx="8.2" ry="8.2" fill="#cacaca" fill-opacity="0.8"/>
<text x="213.2" y="48.8" text-anchor="middle" font-size="13" fill="#151517" stroke="#151517" stroke-width="0.25">20%</text>
<rect x="245.2" y="35.9" width="53.1" height="16.4" rx="8.2" ry="8.2" fill="#cacaca" fill-opacity="0.8"/>
<text x="272.6" y="48.8" text-anchor="middle" font-size="13" fill="#151517" stroke="#151517" stroke-width="0.25">50%</text>
<rect x="304.0" y="35.9" width="53.1" height="16.4" rx="8.2" ry="8.2" fill="#cacaca" fill-opacity="0.8"/>
<text x="331.4" y="48.8" text-anchor="middle" font-size="13" fill="#151517" stroke="#151517" stroke-width="0.25">100%</text>
<rect x="368.1" y="34.8" width="53.1" height="16.4" rx="8.2" ry="8.2" fill="#cacaca" fill-opacity="0.8"/>
<text x="395.0" y="47.6" text-anchor="middle" font-size="13" fill="#151517" stroke="#151517" stroke-width="0.25">200%</text><rect x="525.2" y="33.8" width="53.1" height="16.4" rx="8.2" ry="8.2" fill="#cacaca" fill-opacity="0.8"/>
<text x="550.9" y="46.6" text-anchor="middle" font-size="13" fill="#151517" stroke="#151517" stroke-width="0.25">3%</text>
<rect x="585.8" y="33.8" width="53.1" height="16.4" rx="8.2" ry="8.2" fill="#cacaca" fill-opacity="0.8"/>
<text x="613.2" y="46.6" text-anchor="middle" font-size="13" fill="#151517" stroke="#151517" stroke-width="0.25">10%</text>
<rect x="646.3" y="33.8" width="53.1" height="16.4" rx="8.2" ry="8.2" fill="#cacaca" fill-opacity="0.8"/>
<text x="673.7" y="46.6" text-anchor="middle" font-size="13" fill="#151517" stroke="#151517" stroke-width="0.25">20%</text>
<rect x="706.3" y="33.8" width="53.1" height="16.4" rx="8.2" ry="8.2" fill="#cacaca" fill-opacity="0.8"/>
<text x="733.6" y="46.6" text-anchor="middle" font-size="13" fill="#151517" stroke="#151517" stroke-width="0.25">50%</text>
<rect x="764.7" y="33.8" width="53.1" height="16.4" rx="8.2" ry="8.2" fill="#cacaca" fill-opacity="0.8"/>
<text x="792.0" y="46.6" text-anchor="middle" font-size="13" fill="#151517" stroke="#151517" stroke-width="0.25">100%</text>
<rect x="828.8" y="32.7" width="53.1" height="16.4" rx="8.2" ry="8.2" fill="#cacaca" fill-opacity="0.8"/>
<text x="855.6" y="45.6" text-anchor="middle" font-size="13" fill="#151517" stroke="#151517" stroke-width="0.25">200%</text></g><g font-family="Liberation Sans, sans-serif" font-size="11" font-weight="bold" fill="#d8d9da" style="word-spacing:-1.2px"><text x="31.2" y="50.1" text-anchor="end">25 K</text>
<text x="31.2" y="116.1" text-anchor="end">20 K</text>
<text x="31.2" y="182.1" text-anchor="end">15 K</text>
<text x="31.2" y="248.1" text-anchor="end">10 K</text>
<text x="31.2" y="314.1" text-anchor="end">5 K</text>
<text x="31.2" y="380.1" text-anchor="end">0</text><text x="493.6" y="50.1" text-anchor="end">7.0 s</text>
<text x="493.6" y="94.1" text-anchor="end">6.0 s</text>
<text x="493.6" y="138.1" text-anchor="end">5.0 s</text>
<text x="493.6" y="183.1" text-anchor="end">4.0 s</text>
<text x="493.6" y="227.1" text-anchor="end">3.0 s</text>
<text x="493.6" y="272.1" text-anchor="end">2.0 s</text>
<text x="493.6" y="316.1" text-anchor="end">1.0 s</text>
<text x="493.6" y="361.1" text-anchor="end">0 ms</text><text x="139.9" y="393.0" text-anchor="middle">13:10</text>
<text x="258.9" y="393.0" text-anchor="middle">13:20</text>
<text x="378.9" y="393.0" text-anchor="middle">13:30</text><text x="600.7" y="374.0" text-anchor="middle">13:10</text>
<text x="719.9" y="374.0" text-anchor="middle">13:20</text>
<text x="838.7" y="374.0" text-anchor="middle">13:30</text></g>
</svg>
<div class="title" style="left:3px;width:442px;letter-spacing:-0.09px;">Mirrored Queue - Publish and Consume Rate</div>
<div class="title" style="left:460px;width:447px;">Mirrored Queue - Latencies</div>
<i class="sw" style="left:18.0px;top:412.2px;background:#7EB26D"></i><span class="lg" style="left:33.7px;top:406.2px">Published</span>
<i class="sw" style="left:92.3px;top:412.2px;background:#EAB839"></i><span class="lg" style="left:108.0px;top:406.2px">Confirmed</span>
<i class="sw" style="left:169.1px;top:412.2px;background:#6ED0E0"></i><span class="lg" style="left:185.1px;top:406.2px">Consumed</span>
<i class="sw" style="left:478.0px;top:393.0px;background:#7EB26D"></i><span class="lg" style="left:493.7px;top:387.0px">Latency (ms) 50th</span>
<i class="sw" style="left:592.9px;top:393.0px;background:#EAB839"></i><span class="lg" style="left:608.6px;top:387.0px">Latency (ms) 75th</span>
<i class="sw" style="left:707.3px;top:393.0px;background:#6ED0E0"></i><span class="lg" style="left:723.7px;top:387.0px">Latency (ms) 95th</span>
<i class="sw" style="left:478.0px;top:412.3px;background:#EF843C"></i><span class="lg" style="left:493.7px;top:406.3px">Latency (ms) 99th</span>
<i class="sw" style="left:592.9px;top:412.3px;background:#E24D42"></i><span class="lg" style="left:608.6px;top:406.3px">Latency (ms) 99.9th</span>
<div class="rh" style="left:441px;top:424px;"></div>
<div class="rh" style="left:901px;top:424px;"></div>
</body>
</html>
